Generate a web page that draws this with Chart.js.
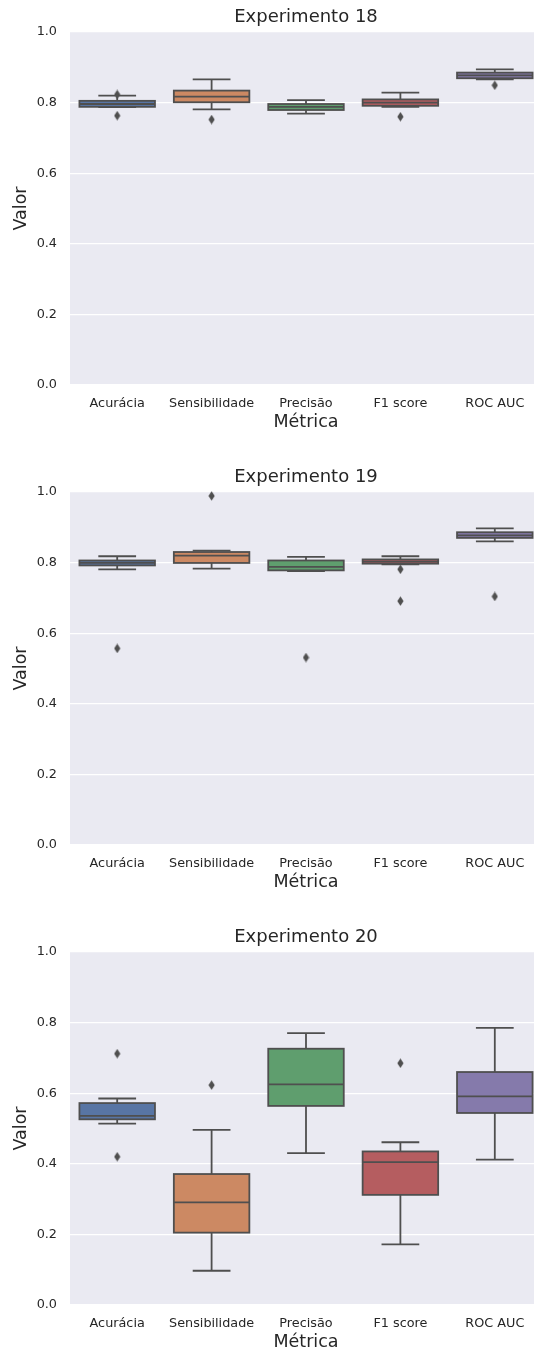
<!DOCTYPE html>
<html>
<head>
<meta charset="utf-8">
<script src="https://cdn.jsdelivr.net/npm/chart.js@4/dist/chart.umd.min.js"></script>
<style>
  html, body { margin: 0; padding: 0; background: #ffffff; width: 534px; height: 1351px; overflow: hidden; }
  canvas { display: block; }
</style>
</head>
<body>
<canvas id="exp18" width="547" height="460"></canvas>
<canvas id="exp19" width="547" height="460"></canvas>
<canvas id="exp20" width="547" height="460"></canvas>
<script>
// Metric categories and y-axis ticks
const metrics = ['Acurácia', 'Sensibilidade', 'Precisão', 'F1 score', 'ROC AUC'];
const yTickValues = [0, 0.2, 0.4, 0.6, 0.8, 1.0];

// Experimento 18: quartiles, whiskers and outliers per metric
const exp18Q1 = [0.788, 0.801, 0.779, 0.791, 0.869];
const exp18Median = [0.796, 0.817, 0.788, 0.800, 0.877];
const exp18Q3 = [0.805, 0.834, 0.796, 0.809, 0.885];
const exp18WhiskerLow = [0.787, 0.781, 0.769, 0.788, 0.866];
const exp18WhiskerHigh = [0.820, 0.866, 0.807, 0.828, 0.894];
const exp18Outliers = [[0.823, 0.763], [0.752], [], [0.760], [0.849]];

// Experimento 19
const exp19Q1 = [0.792, 0.799, 0.778, 0.797, 0.870];
const exp19Median = [0.799, 0.820, 0.788, 0.803, 0.877];
const exp19Q3 = [0.806, 0.830, 0.806, 0.809, 0.886];
const exp19WhiskerLow = [0.781, 0.783, 0.776, 0.795, 0.860];
const exp19WhiskerHigh = [0.818, 0.834, 0.816, 0.818, 0.897];
const exp19Outliers = [[0.557], [0.989], [0.531], [0.781, 0.691], [0.704]];

// Experimento 20
const exp20Q1 = [0.526, 0.205, 0.564, 0.312, 0.544];
const exp20Median = [0.536, 0.291, 0.625, 0.405, 0.591];
const exp20Q3 = [0.572, 0.371, 0.726, 0.435, 0.660];
const exp20WhiskerLow = [0.514, 0.097, 0.430, 0.172, 0.412];
const exp20WhiskerHigh = [0.585, 0.496, 0.770, 0.461, 0.785];
const exp20Outliers = [[0.712, 0.420], [0.623], [], [0.685], []];

const boxColors = ['#5875a4', '#cc8963', '#5f9e6e', '#b55d60', '#857aab'];
const lineGray = '#4f4f4f';
const textColor = '#262626';
const fontFamily = "'DejaVu Sans', sans-serif";
const strokeWidth = 1.8;

// Thin diamond marker for outliers
const diamond = document.createElement('canvas');
diamond.width = 7; diamond.height = 10;
(function () {
  const g = diamond.getContext('2d');
  g.fillStyle = lineGray;
  g.beginPath();
  g.moveTo(3.5, 0.3); g.lineTo(6.6, 5); g.lineTo(3.5, 9.7); g.lineTo(0.4, 5);
  g.closePath();
  g.fill();
})();

// Shaded plotting area
const plotBackground = {
  id: 'plotBackground',
  beforeDraw(chart) {
    const { ctx, chartArea: a } = chart;
    ctx.save();
    ctx.fillStyle = '#eaeaf2';
    ctx.fillRect(a.left, a.top, a.right - a.left, a.bottom - a.top);
    ctx.restore();
  }
};

// Box outlines, whiskers, caps and medians drawn over the box dataset
const boxDetails = {
  id: 'boxDetails',
  afterDatasetDraw(chart, args, opts) {
    if (args.index !== 0) return;
    const { ctx, scales: { y } } = chart;
    const s = opts.stats;
    ctx.save();
    ctx.strokeStyle = lineGray;
    ctx.lineWidth = strokeWidth;
    ctx.lineCap = 'butt';
    ctx.lineJoin = 'miter';
    args.meta.data.forEach((bar, i) => {
      const { x, width } = bar.getProps(['x', 'width'], true);
      const half = width / 2;
      const cap = half / 2;
      const yQ1 = y.getPixelForValue(s.q1[i]);
      const yQ3 = y.getPixelForValue(s.q3[i]);
      const yLow = y.getPixelForValue(s.low[i]);
      const yHigh = y.getPixelForValue(s.high[i]);
      const yMed = y.getPixelForValue(s.median[i]);
      ctx.beginPath();
      ctx.moveTo(x, yQ1); ctx.lineTo(x, yLow);
      ctx.moveTo(x, yQ3); ctx.lineTo(x, yHigh);
      ctx.moveTo(x - cap, yLow); ctx.lineTo(x + cap, yLow);
      ctx.moveTo(x - cap, yHigh); ctx.lineTo(x + cap, yHigh);
      ctx.moveTo(x - half, yMed); ctx.lineTo(x + half, yMed);
      ctx.stroke();
      ctx.strokeRect(x - half, yQ3, width, yQ1 - yQ3);
    });
    ctx.restore();
  }
};

function makeChart(id, title, q1, median, q3, low, high, outliers) {
  const outlierPoints = outliers.flatMap((vals, i) => vals.map(v => ({ x: metrics[i], y: v })));
  return new Chart(document.getElementById(id), {
    type: 'bar',
    data: {
      labels: metrics,
      datasets: [
        {
          data: q1.map((v, i) => [v, q3[i]]),
          backgroundColor: boxColors,
          borderWidth: 0,
          barPercentage: 0.8,
          categoryPercentage: 1.0
        },
        {
          type: 'line',
          data: outlierPoints,
          showLine: false,
          pointStyle: diamond,
          pointRadius: 4,
          clip: false
        }
      ]
    },
    options: {
      responsive: false,
      animation: false,
      devicePixelRatio: 1,
      layout: { padding: 0 },
      plugins: {
        legend: { display: false },
        tooltip: { enabled: false },
        title: {
          display: true,
          fullSize: false,
          text: title,
          color: textColor,
          font: { family: fontFamily, size: 18, weight: 'normal' },
          padding: { top: 7, bottom: 3.4 }
        },
        boxDetails: { stats: { q1, median, q3, low, high } }
      },
      scales: {
        x: {
          type: 'category',
          offset: true,
          grid: { display: false, drawTicks: false },
          border: { display: false },
          ticks: { color: textColor, font: { family: fontFamily, size: 12.8 }, padding: 10.6, maxRotation: 0 },
          title: {
            display: true, text: 'Métrica', color: textColor,
            font: { family: fontFamily, size: 17.5 },
            padding: { top: 0, bottom: 27.5 }
          },
          afterFit(scale) { scale.height = 75; }
        },
        y: {
          min: 0, max: 1,
          afterBuildTicks(scale) { scale.ticks = yTickValues.map(v => ({ value: v })); },
          grid: { color: '#ffffff', lineWidth: 1.2, drawTicks: false },
          border: { display: false },
          ticks: {
            color: textColor, font: { family: fontFamily, size: 12.8 }, padding: 13,
            callback: v => Number(v).toFixed(1)
          },
          title: {
            display: true, text: 'Valor', color: textColor,
            font: { family: fontFamily, size: 17.5 },
            padding: { top: 11, bottom: 0 }
          },
          afterFit(scale) { scale.width = 70; }
        }
      }
    },
    plugins: [plotBackground, boxDetails]
  });
}

makeChart('exp18', 'Experimento 18', exp18Q1, exp18Median, exp18Q3, exp18WhiskerLow, exp18WhiskerHigh, exp18Outliers);
makeChart('exp19', 'Experimento 19', exp19Q1, exp19Median, exp19Q3, exp19WhiskerLow, exp19WhiskerHigh, exp19Outliers);
makeChart('exp20', 'Experimento 20', exp20Q1, exp20Median, exp20Q3, exp20WhiskerLow, exp20WhiskerHigh, exp20Outliers);
</script>
</body>
</html>
